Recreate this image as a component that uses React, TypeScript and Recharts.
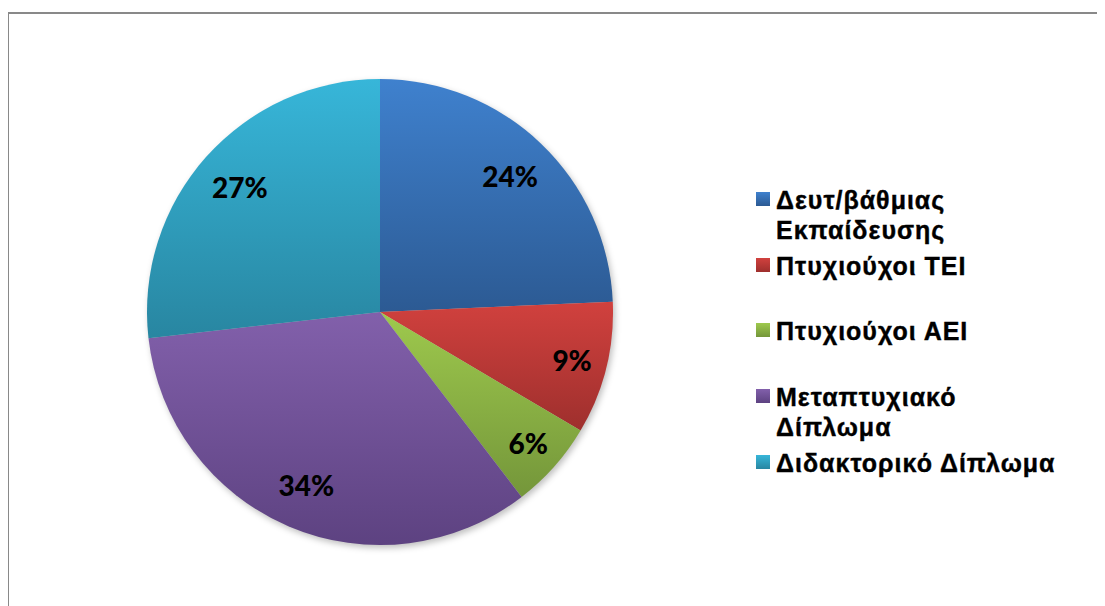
import { PieChart, Pie, Cell, Legend } from 'recharts';

const categories = [
  'Δευτ/βάθμιας Εκπαίδευσης',
  'Πτυχιούχοι ΤΕΙ',
  'Πτυχιούχοι ΑΕΙ',
  'Μεταπτυχιακό Δίπλωμα',
  'Διδακτορικό Δίπλωμα',
];
const shares = [24.3, 9.2, 6.1, 33.6, 26.8];

const topColors = ['#3F81CE', '#D1413E', '#9EC94D', '#8260AB', '#37B6D9'];
const bottomColors = ['#2C5A93', '#9E2F2D', '#74963A', '#5D4281', '#2886A1'];

const data = categories.map((name, i) => ({ name, value: shares[i] }));

const RAD = Math.PI / 180;

const renderLabel = (props: any) => {
  const { cx, cy, midAngle, percent } = props;
  // small slices get pushed a bit further out, like the original
  const r = percent < 0.15 ? 198 : 188;
  const x = cx + r * Math.cos(-midAngle * RAD);
  const y = cy + r * Math.sin(-midAngle * RAD);
  return (
    <text
      x={x}
      y={y}
      textAnchor="middle"
      dominantBaseline="central"
      fill="#000"
      style={{ fontFamily: 'Lato, sans-serif', fontWeight: 900, fontSize: 28 }}
    >
      {`${Math.round(percent * 100)}%`}
    </text>
  );
};

const renderLegend = () => (
  <div
    style={{
      fontFamily: '"Liberation Sans", Arial, sans-serif',
      fontWeight: 700,
      fontSize: 25,
      letterSpacing: 1,
      WebkitTextStroke: '0.4px #000',
    }}
  >
    {categories.map((name, i) => (
      <div key={name} style={{ height: 65.7, display: 'flex', alignItems: 'flex-start' }}>
        <div
          style={{
            width: 14,
            height: 14,
            marginTop: 7,
            marginRight: 6,
            flexShrink: 0,
            background: `linear-gradient(${topColors[i]}, ${bottomColors[i]})`,
          }}
        />
        <div style={{ width: 290, lineHeight: '30px', color: '#000' }}>{name}</div>
      </div>
    ))}
  </div>
);

export default function App() {
  return (
    <div style={{ position: 'relative', width: 1097, height: 598, overflow: 'hidden', background: '#fff' }}>
      <div
        style={{
          position: 'absolute',
          left: -1,
          top: 4,
          width: 3000,
          height: 3000,
          border: '2px solid #898989',
        }}
      />
      <div style={{ position: 'absolute', left: 0, top: 0 }}>
        <PieChart width={1097} height={598} margin={{ top: 0, right: 0, bottom: 0, left: 0 }}>
          <defs>
            {topColors.map((c, i) => (
              <linearGradient key={c} id={`slice-${i}`} x1="0" y1="0" x2="0" y2="1">
                <stop offset="0%" stopColor={c} />
                <stop offset="100%" stopColor={bottomColors[i]} />
              </linearGradient>
            ))}
            <filter id="pie-shadow" x="-10%" y="-10%" width="120%" height="120%">
              <feGaussianBlur stdDeviation="3" />
            </filter>
          </defs>
          <Pie
            data={data}
            dataKey="value"
            nameKey="name"
            cx={374}
            cy={307}
            outerRadius={233}
            startAngle={90}
            endAngle={-270}
            stroke="none"
            fill="#000"
            fillOpacity={0.25}
            style={{ filter: 'url(#pie-shadow)' }}
            legendType="none"
            isAnimationActive={false}
          />
          <Pie
            data={data}
            dataKey="value"
            nameKey="name"
            cx={372}
            cy={304}
            outerRadius={233}
            startAngle={90}
            endAngle={-270}
            stroke="none"
            label={renderLabel}
            labelLine={false}
            isAnimationActive={false}
          >
            {data.map((entry, i) => (
              <Cell key={entry.name} fill={`url(#slice-${i})`} />
            ))}
          </Pie>
          <Legend
            content={renderLegend}
            wrapperStyle={{ left: 748, top: 177, width: 330, bottom: 'auto', right: 'auto' }}
          />
        </PieChart>
      </div>
    </div>
  );
}
